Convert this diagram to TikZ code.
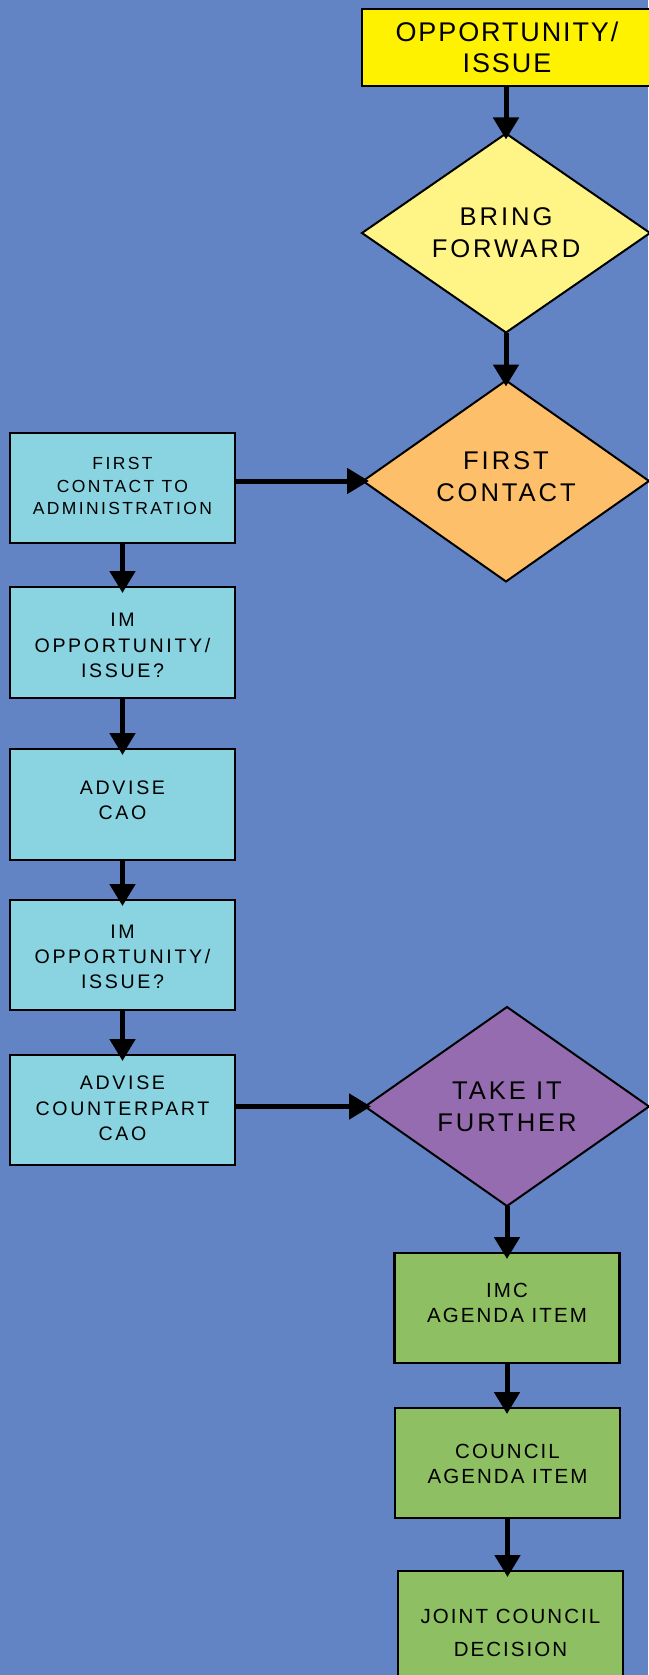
\documentclass[tikz,border=0pt]{standalone}
\usepackage{fontspec}
\setmainfont{Liberation Sans}
% tracked caps for the different label sizes
\newfontfamily\trackS[LetterSpace=7]{Liberation Sans}
\newfontfamily\trackD[LetterSpace=11.5]{Liberation Sans}
\newfontfamily\trackT[LetterSpace=13.5]{Liberation Sans}
\newfontfamily\trackG[LetterSpace=10]{Liberation Sans}
\usetikzlibrary{shapes.geometric,arrows.meta}

\definecolor{bgblue}{HTML}{6384C4}
\definecolor{startyellow}{HTML}{FFF200}
\definecolor{paleyellow}{HTML}{FFF586}
\definecolor{softorange}{HTML}{FDBF69}
\definecolor{teal}{HTML}{8AD3E0}
\definecolor{violet}{HTML}{966CB0}
\definecolor{leafgreen}{HTML}{8FBF63}

\tikzset{
  box/.style={draw=black, line width=2.7pt, rectangle, inner sep=0pt, outer sep=0pt,
              minimum width=225pt, minimum height=110pt},
  admin/.style={box, fill=teal},
  council/.style={box, fill=leafgreen},
  decision/.style={draw=black, line width=2pt, diamond, inner sep=0pt, outer sep=0pt,
              minimum width=286pt, minimum height=199pt},
  txt/.style={align=center, inner sep=0pt, text=black},
  admintxt/.style={txt, font=\trackT\fontsize{19.6}{25.3}\selectfont},
  counciltxt/.style={txt, font=\trackG\fontsize{20.5}{24.5}\selectfont},
  decisiontxt/.style={txt, font=\trackD\fontsize{25.6}{32}\selectfont},
  flow/.style={line width=5pt, -{Triangle[width=25pt,length=22pt]}, shorten >=-6pt}
}

\begin{document}
\begin{tikzpicture}[x=1pt,y=-1pt]
  \fill[bgblue] (0,0) rectangle (648,1675);
  \useasboundingbox (0,0) rectangle (648,1675);

  % right-hand column: issue and decisions
  \node[box, fill=startyellow, minimum width=290pt, minimum height=77pt] (opp) at (507,47.5) {};
  \node[txt, font=\trackS\fontsize{27}{31}\selectfont] (opp-t) at (opp.center) {OPPORTUNITY/\\ISSUE};
  \node[decision, fill=paleyellow, minimum width=288pt] (bring) at (506,233) {};
  \node[decisiontxt] (bring-t) at (bring.center) {BRING\\FORWARD};
  \node[decision, fill=softorange, minimum height=201pt] (first) at (506,481) {};
  \node[decisiontxt] (first-t) at ([yshift=4pt]first.center) {FIRST\\CONTACT};

  % left-hand column: administration steps
  \node[admin] (fca) at (122.5,488) {};
  \node[txt, font=\trackT\fontsize{17.5}{22.4}\selectfont] (fca-t) at ([yshift=2pt]fca.center) {FIRST\\CONTACT TO\\ADMINISTRATION};
  \node[admin, minimum height=111pt] (im1) at (122.5,642.5) {};
  \node[admintxt] (im1-t) at ([yshift=-3pt]im1.center) {IM\\OPPORTUNITY/\\ISSUE?};
  \node[admin, minimum height=111pt] (cao) at (122.5,804.5) {};
  \node[admintxt] (cao-t) at ([yshift=4pt]cao.center) {ADVISE\\CAO};
  \node[admin] (im2) at (122.5,955) {};
  \node[admintxt] (im2-t) at ([yshift=-2pt]im2.center) {IM\\OPPORTUNITY/\\ISSUE?};
  \node[admin] (cp) at (122.5,1110) {};
  \node[admintxt] (cp-t) at ([yshift=1.5pt]cp.center) {ADVISE\\COUNTERPART\\CAO};

  % further steps to council
  \node[decision, fill=violet, minimum width=284pt] (take) at (507,1106.5) {};
  \node[decisiontxt] (take-t) at (take.center) {TAKE IT\\FURTHER};
  \node[council] (imc) at (507,1308) {};
  \node[counciltxt] (imc-t) at ([yshift=5pt]imc.center) {IMC\\AGENDA ITEM};
  \node[council] (cai) at (507.5,1463) {};
  \node[counciltxt] (cai-t) at ([yshift=-1pt]cai.center) {COUNCIL\\AGENDA ITEM};
  \node[council] (joint) at (510.5,1626) {};
  \node[txt, font=\trackG\fontsize{20.5}{33}\selectfont] (joint-t) at ([yshift=-7pt]joint.center) {JOINT COUNCIL\\DECISION};

  % connectors
  \draw[flow] (opp.south -| bring.north) -- (bring.north);
  \draw[flow] (bring.south) -- (first.north);
  \draw[flow] (fca.east |- first.west) -- (first.west);
  \draw[flow] (fca.south) -- (im1.north);
  \draw[flow] (im1.south) -- (cao.north);
  \draw[flow] (cao.south) -- (im2.north);
  \draw[flow] (im2.south) -- (cp.north);
  \draw[flow] (cp.east |- take.west) -- (take.west);
  \draw[flow] (take.south -| imc.north) -- (imc.north);
  \draw[flow] (imc.south) -- (imc.south |- cai.north);
  \draw[flow] (cai.south) -- (cai.south |- joint.north);
\end{tikzpicture}
\end{document}
